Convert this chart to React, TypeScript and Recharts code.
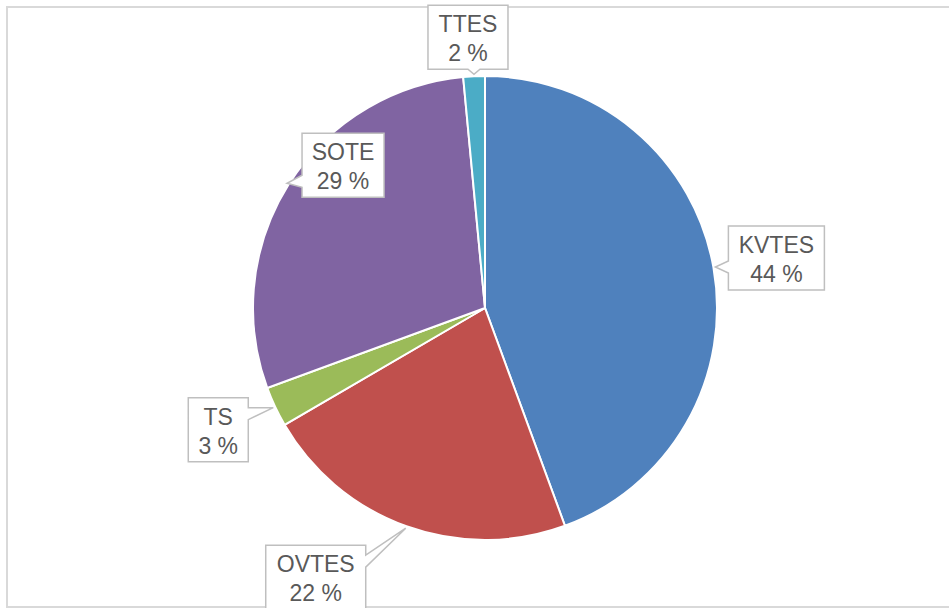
import { Cell, Pie, PieChart } from "recharts";

const categories = ["KVTES", "OVTES", "TS", "SOTE", "TTES"];
const shares = [44.4, 22.2, 2.8, 29.1, 1.5];
const colors = ["#4F81BD", "#C0504D", "#9BBB59", "#8064A2", "#4BACC6"];

// callout box placement, relative to the point on the slice edge
const labelOffsets = [
  [61, -9],
  [-90, 49],
  [-55, 22],
  [56, -18],
  [-6, -37],
];
const labelWidths = [96, 100, 60, 82, 80];
const BOX_H = 64;

const data = categories.map((name, i) => ({ name, value: shares[i] }));
const RADIAN = Math.PI / 180;

function calloutPath(x0: number, y0: number, x1: number, y1: number, tx: number, ty: number) {
  const hw = 6;
  const pad = 16;
  const clamp = (v: number, a: number, b: number) => Math.max(a, Math.min(b, v));
  let edge = "top";
  if (tx < x0) edge = "left";
  else if (tx > x1) edge = "right";
  else if (ty > y1) edge = "bottom";

  let d = `M${x0},${y0}`;
  if (edge === "top") {
    const m = clamp(tx, x0 + pad, x1 - pad);
    d += ` L${m - hw},${y0} L${tx},${ty} L${m + hw},${y0}`;
  }
  d += ` L${x1},${y0}`;
  if (edge === "right") {
    const m = clamp(ty, y0 + pad, y1 - pad);
    d += ` L${x1},${m - hw} L${tx},${ty} L${x1},${m + hw}`;
  }
  d += ` L${x1},${y1}`;
  if (edge === "bottom") {
    const m = clamp(tx, x0 + pad, x1 - pad);
    d += ` L${m + hw},${y1} L${tx},${ty} L${m - hw},${y1}`;
  }
  d += ` L${x0},${y1}`;
  if (edge === "left") {
    const m = clamp(ty, y0 + pad, y1 - pad);
    d += ` L${x0},${m + hw} L${tx},${ty} L${x0},${m - hw}`;
  }
  return d + " Z";
}

function CalloutLabel(props: any) {
  const { cx, cy, midAngle, outerRadius, index, percent, name } = props;
  const r = outerRadius + 2;
  const tx = cx + r * Math.cos(-midAngle * RADIAN);
  const ty = cy + r * Math.sin(-midAngle * RADIAN);
  const [ox, oy] = labelOffsets[index];
  const w = labelWidths[index];
  const bx = tx + ox;
  const by = ty + oy;
  const x0 = bx - w / 2;
  const y0 = by - BOX_H / 2;
  return (
    <g>
      <path
        d={calloutPath(x0, y0, x0 + w, y0 + BOX_H, tx, ty)}
        fill="#fff"
        stroke="#BFBFBF"
        strokeWidth={1.5}
      />
      <text
        x={bx}
        textAnchor="middle"
        fill="#595959"
        fontFamily="'Liberation Sans', Arial, sans-serif"
        fontSize={23}
      >
        <tspan x={bx} y={by - 5}>{name}</tspan>
        <tspan x={bx} y={by + 24}>{`${Math.round(percent * 100)} %`}</tspan>
      </text>
    </g>
  );
}

export default function App() {
  return (
    <div style={{ position: "fixed", left: 0, top: 0, width: 949, height: 608, overflow: "hidden", background: "#fff" }}>
      <div
        style={{
          position: "absolute",
          left: 6,
          top: 6,
          width: 1000,
          height: 598,
          border: "2px solid #D9D9D9",
        }}
      />
      <div style={{ position: "absolute", left: 0, top: 0 }}>
        <PieChart width={949} height={608} margin={{ top: 0, right: 0, bottom: 0, left: 0 }}>
          <Pie
            data={data}
            dataKey="value"
            nameKey="name"
            cx={485}
            cy={308}
            outerRadius={232}
            startAngle={90}
            endAngle={-270}
            stroke="#fff"
            strokeWidth={2}
            labelLine={false}
            label={CalloutLabel}
            isAnimationActive={false}
          >
            {data.map((d, i) => (
              <Cell key={d.name} fill={colors[i]} />
            ))}
          </Pie>
        </PieChart>
      </div>
    </div>
  );
}
